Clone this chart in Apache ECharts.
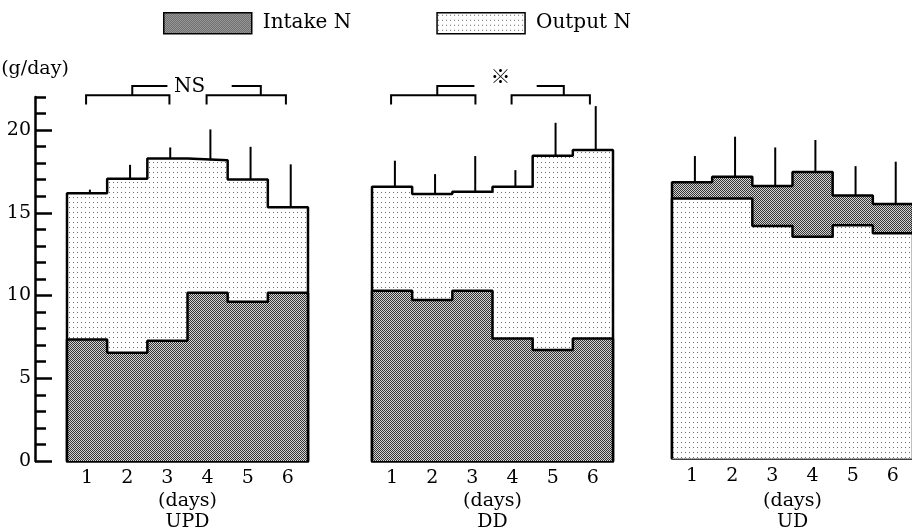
<!DOCTYPE html>
<html>
<head>
  <meta charset="UTF-8">
  <title>Nitrogen balance</title>
  <script src="https://cdn.jsdelivr.net/npm/echarts@6/dist/echarts.min.js"></script>
</head>
<body style="margin: 0; background: #fff;">
  <div id="main" style="width: 912px; height: 530px;"></div>
  <script type="text/javascript">
    // --- data ---
    var days = ['1', '2', '3', '4', '5', '6'];
    var panelNames = ['UPD', 'DD', 'UD'];
    var yMajor = [0, 5, 10, 15, 20];

    var intakeUPD = [7.35, 6.55, 7.27, 10.17, 9.63, 10.17];
    var outputUPD = [16.18, 17.06, 18.29, 18.17, 17.02, 15.33];
    var errUPD = [16.4, 17.9, 18.95, 20.04, 18.99, 17.93];

    var intakeDD = [10.29, 9.73, 10.29, 7.41, 6.71, 7.41];
    var outputDD = [16.57, 16.13, 16.27, 16.57, 18.45, 18.79];
    var errDD = [18.15, 17.34, 18.43, 17.58, 20.44, 21.45];

    var intakeUD = [16.7, 17.03, 16.47, 17.31, 15.9, 15.38];
    var outputUD = [15.72, 15.72, 14.05, 13.4, 14.09, 13.61];
    var errUD = [18.28, 19.45, 18.8, 19.25, 17.67, 17.94];

    // brackets: [left end, right end, stub x, stub end x]
    var bracketsUPD = [[0.975, 3.05, 2.125, 3.0], [3.975, 5.95, 5.325, 4.6]];
    var bracketsDD = [[0.975, 3.075, 2.125, 3.05], [3.975, 5.925, 5.275, 4.6]];
    var sigLabels = ['NS', '※'];
    var sigLabelX = [3.55, 3.7];

    var intake = [intakeUPD, intakeDD, intakeUD];
    var output = [outputUPD, outputDD, outputUD];
    var errs = [errUPD, errDD, errUD];
    var brackets = [bracketsUPD, bracketsDD, []];

    var FONT = "'DejaVu Serif', 'Noto Sans CJK JP', serif";
    var chart = echarts.init(document.getElementById('main'));

    function makePattern(w, h, bg, fg, dots) {
      var c = document.createElement('canvas');
      c.width = w; c.height = h;
      var ctx = c.getContext('2d');
      ctx.fillStyle = bg;
      ctx.fillRect(0, 0, w, h);
      ctx.fillStyle = fg;
      dots.forEach(function (d) { ctx.fillRect(d[0], d[1], 1, 1); });
      return { image: c, repeat: 'repeat' };
    }
    var darkFill = makePattern(2, 2, '#d4d4d4', '#333', [[0, 0], [1, 1]]);
    var lightFill = makePattern(4, 5, '#fff', '#6a6a6a', [[1, 2]]);

    function stepData(vals) {
      var pts = [[0.5, 0]];
      vals.forEach(function (v, i) { pts.push([i + 0.5, v]); });
      pts.push([6.5, vals[vals.length - 1]]);
      pts.push([6.5, 0]);
      return pts;
    }

    var grids = [
      { left: 67, width: 241, top: 97, bottom: 69, outerBoundsMode: 'none' },
      { left: 372, width: 241, top: 97, bottom: 69, outerBoundsMode: 'none' },
      { left: 672, width: 241, top: 94.5, bottom: 71.5, outerBoundsMode: 'none' }
    ];
    var nameGaps = [30, 30, 32];

    var xAxes = [], yAxes = [], series = [];
    panelNames.forEach(function (name, p) {
      xAxes.push({
        gridIndex: p, type: 'value', min: 0.5, max: 6.5,
        axisLine: { show: true, lineStyle: { color: '#000', width: 2.5 } },
        axisTick: { show: false },
        splitLine: { show: false },
        axisLabel: {
          customValues: [1, 2, 3, 4, 5, 6],
          formatter: function (v) { return days[Math.round(v) - 1]; },
          color: '#000', fontFamily: FONT, fontSize: 19, margin: 8
        },
        name: '(days)\n' + name,
        nameLocation: 'middle', nameGap: nameGaps[p], nameMoveOverlap: false,
        nameTextStyle: { color: '#000', fontFamily: FONT, fontSize: 19, lineHeight: 21 }
      });
    });

    yAxes.push({
      gridIndex: 0, type: 'value', position: 'left', min: 0, max: 22, offset: 32,
      axisLine: { show: true, lineStyle: { color: '#000', width: 2.5 } },
      axisTick: { show: true, inside: true, length: 17, customValues: yMajor, lineStyle: { color: '#000', width: 2.5 } },
      axisLabel: { customValues: yMajor, margin: 4, color: '#000', fontFamily: FONT, fontSize: 19 },
      splitLine: { show: false },
      name: '(g/day)', nameLocation: 'end', nameGap: 18,
      nameTextStyle: { color: '#000', fontFamily: FONT, fontSize: 19 }
    });
    yAxes.push({
      gridIndex: 0, type: 'value', position: 'left', min: 0, max: 22, interval: 1, offset: 32,
      axisLine: { show: false },
      axisTick: { show: true, inside: true, length: 11, lineStyle: { color: '#000', width: 2.5 } },
      axisLabel: { show: false },
      splitLine: { show: false }
    });
    yAxes.push({ gridIndex: 1, type: 'value', min: 0, max: 22, show: false });
    yAxes.push({ gridIndex: 2, type: 'value', min: 0, max: 22, show: false });
    var yIndexOf = [0, 2, 3];

    panelNames.forEach(function (name, p) {
      var sumIn = intake[p].reduce(function (a, b) { return a + b; }, 0);
      var sumOut = output[p].reduce(function (a, b) { return a + b; }, 0);
      var lineCommon = {
        type: 'line', step: 'end', symbol: 'none', silent: true,
        xAxisIndex: p, yAxisIndex: yIndexOf[p],
        lineStyle: { color: '#000', width: 2.5 },
        itemStyle: { color: '#000' }
      };
      series.push(Object.assign({}, lineCommon, {
        name: 'Intake N', data: stepData(intake[p]),
        areaStyle: { color: darkFill, opacity: 1 },
        z: sumIn > sumOut ? 2 : 3
      }));
      series.push(Object.assign({}, lineCommon, {
        name: 'Output N', data: stepData(output[p]),
        areaStyle: { color: lightFill, opacity: 1 },
        z: sumOut > sumIn ? 2 : 3
      }));

      // error bars from the top of the stack
      series.push({
        type: 'custom', clip: false, silent: true,
        xAxisIndex: p, yAxisIndex: yIndexOf[p], z: 4,
        data: errs[p].map(function (e, i) {
          return [i + 1 + 0.07, Math.max(intake[p][i], output[p][i]), e];
        }),
        renderItem: function (params, api) {
          var a = api.coord([api.value(0), api.value(1)]);
          var b = api.coord([api.value(0), api.value(2)]);
          return { type: 'line', shape: { x1: a[0], y1: a[1], x2: b[0], y2: b[1] }, style: { stroke: '#000', lineWidth: 2 } };
        }
      });

      if (brackets[p].length) {
        series.push({
          type: 'custom', clip: false, silent: true,
          xAxisIndex: p, yAxisIndex: yIndexOf[p], z: 4,
          data: brackets[p],
          renderItem: function (params, api) {
            var x1 = api.value(0), x2 = api.value(1), xs = api.value(2), xh = api.value(3);
            var yBar = 22.1, yLeg = 21.55, yStub = 22.66;
            var st = { stroke: '#000', lineWidth: 2, fill: null };
            return {
              type: 'group', children: [
                { type: 'polyline', shape: { points: [api.coord([x1, yLeg]), api.coord([x1, yBar]), api.coord([x2, yBar]), api.coord([x2, yLeg])] }, style: st },
                { type: 'polyline', shape: { points: [api.coord([xs, yBar]), api.coord([xs, yStub]), api.coord([xh, yStub])] }, style: st }
              ]
            };
          }
        });
        series.push({
          type: 'custom', clip: false, silent: true,
          xAxisIndex: p, yAxisIndex: yIndexOf[p], z: 4,
          data: [[sigLabelX[p], p === 0 ? 22.6 : 23.1]],
          renderItem: function (params, api) {
            var c = api.coord([api.value(0), api.value(1)]);
            return {
              type: 'text', x: c[0], y: c[1],
              style: { text: sigLabels[p], fill: '#000', font: '20px ' + FONT, align: 'center', verticalAlign: 'middle' }
            };
          }
        });
      }
    });

    chart.setOption({
      backgroundColor: '#fff',
      animation: false,
      legend: {
        left: 163, top: 12, padding: 0,
        itemWidth: 88, itemHeight: 21, itemGap: 85,
        selectedMode: false,
        textStyle: { color: '#000', fontFamily: FONT, fontSize: 20, padding: [0, 0, 0, 6] },
        data: [
          { name: 'Intake N', icon: 'rect', itemStyle: { color: darkFill, borderColor: '#000', borderWidth: 1.5 } },
          { name: 'Output N', icon: 'rect', itemStyle: { color: lightFill, borderColor: '#000', borderWidth: 1.5 } }
        ]
      },
      grid: grids,
      xAxis: xAxes,
      yAxis: yAxes,
      series: series
    });
  </script>
</body>
</html>
